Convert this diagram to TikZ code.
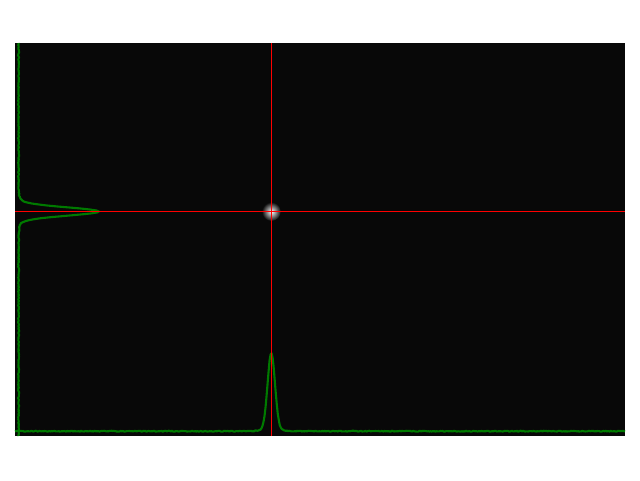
\documentclass[tikz,border=0pt]{standalone}
\definecolor{bgdark}{HTML}{080808}
\definecolor{profgreen}{HTML}{007A00}
\definecolor{crossred}{rgb}{1,0,0}
\tikzset{
  profile/.style={draw=profgreen, line width=2.1pt, line join=round},
  redline/.style={draw=crossred, line width=1.2pt},
}
\begin{document}
\begin{tikzpicture}[x=1pt,y=-1pt]
\useasboundingbox (0,0) rectangle (640,480);
\fill[white] (0,0) rectangle (640,480);
\fill[bgdark] (15,43) rectangle (625,436);
\coordinate (c) at (271.3,211.5);
% glow
\shade[inner color=white, outer color=bgdark] (c) circle (9.5);
% profiles
\pgfmathsetseed{12345}
\draw[profile] plot[domain=43:436, samples=400, variable=\t]
  ({18.6+78*exp(-min(((\t-211.5)/5.8)^2,40))+2.5*exp(-min(((\t-211.5)/14)^2,40))+0.45*rand}, \t);
\draw[profile] plot[domain=15:625, samples=600, variable=\t]
  (\t, {431.2-77*exp(-min(((\t-271.3)/5.2)^2,40))-1.5*exp(-min(((\t-271.3)/14)^2,40))+0.45*rand});
% crosshair
\coordinate (l) at (15,211.5);
\coordinate (r) at (625,211.5);
\coordinate (t) at (271.3,43);
\coordinate (b) at (271.3,436);
\draw[redline] (l) -- (r);
\draw[redline] (t) -- (b);
\end{tikzpicture}
\end{document}
